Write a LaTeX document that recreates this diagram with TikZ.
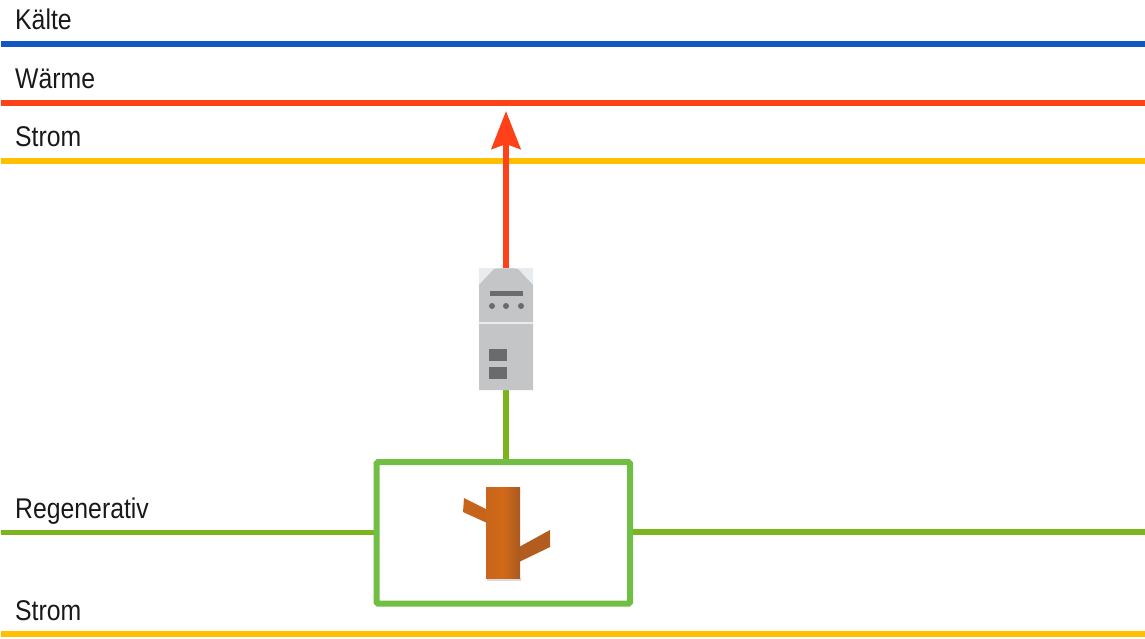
\documentclass[tikz,border=0pt]{standalone}
\usepackage{fontspec}
\setmainfont[FakeStretch=0.87]{Liberation Sans}
\usetikzlibrary{arrows.meta,backgrounds}
\definecolor{kalt}{HTML}{1257C6}
\definecolor{warm}{HTML}{FF4119}
\definecolor{strom}{HTML}{FFC000}
\definecolor{regen}{HTML}{7AB51D}
\definecolor{boxgreen}{HTML}{70BF44}
\definecolor{devgrey}{HTML}{C3C5C7}
\definecolor{devlight}{HTML}{E8ECEE}
\definecolor{devdark}{HTML}{6A6B6D}
\definecolor{woodA}{HTML}{C9651C}
\definecolor{woodB}{HTML}{A85A20}
\tikzset{
  busline/.style={line width=6pt},
  lbl/.style={anchor=base west,inner sep=0pt,font=\fontsize{28.5}{28.5}\selectfont,text=black!90},
  conn/.style={line width=5.8pt},
  devrect/.style={fill=devdark,draw=none},
}
\begin{document}
\begin{tikzpicture}[x=1pt,y=-1pt]
\useasboundingbox (0,0) rectangle (1145,638);
% bus ends
\coordinate (k0) at (1,44); \coordinate (k1) at (1145,44);
\coordinate (w0) at (1,102.5); \coordinate (w1) at (1145,102.5);
\coordinate (s0) at (1,160.5); \coordinate (s1) at (1145,160.5);
\coordinate (r0) at (1,532.5); \coordinate (r1) at (1145,532);
\coordinate (t0) at (1,634); \coordinate (t1) at (1145,634);
\coordinate (tiprow) at (0,111);
\draw[busline,kalt] (k0) -- (k1);
\draw[busline,warm] (w0) -- (w1);
\draw[busline,strom] (s0) -- (s1);
\draw[busline,strom] (t0) -- (t1);
\node[lbl] (lk) at (15,29) {Kälte};
\node[lbl] (lw) at (15,88) {Wärme};
\node[lbl] (ls) at (15,146) {Strom};
\node[lbl] (lr) at (15,518) {Regenerativ};
\node[lbl] (lt) at (15,620) {Strom};
% box and device
\node[draw=boxgreen,line width=6pt,rounded corners=1.5pt,outer sep=0pt,minimum width=253.5pt,minimum height=141.5pt,inner sep=0pt,anchor=north west] (box) at (376.5,462) {};
\node[fill=devlight,outer sep=0pt,minimum width=54pt,minimum height=122pt,inner sep=0pt,anchor=north west] (dev) at (479,268) {};
% connectors, behind box and device
\begin{pgfonlayer}{background}
\draw[conn,regen] (r0) -- (box.west |- r0);
\draw[conn,regen] (box.east |- r1) -- (r1);
\draw[conn,regen] (dev.south) -- (dev.south |- box.north);
\end{pgfonlayer}
\draw[conn,warm,-{Stealth[length=38pt,width=29pt,inset=5pt]}] (dev.north) -- (dev.north |- tiprow);
% device drawing
\fill[devgrey] (479,285) -- (494,269) .. controls (496,268) and (516,268) .. (518,269) -- (533,285) -- (533,390) -- (479,390) -- cycle;
\fill[devlight] (479,321.5) rectangle (533,323.5);
\fill[devdark] (489.5,291) rectangle (523,296);
\foreach \x in {492,506,521} \fill[devdark] (\x,306) circle (3pt);
\fill[devrect] (489,349) rectangle (507,361);
\fill[devrect] (489,367) rectangle (507,379);
% tree
\fill[black!14] (487,578) rectangle (521,580.5);
\fill[woodA!90!woodB] (464,498) -- (486,509) -- (487,523) -- (463,512) -- cycle;
\fill[woodB!70!woodA] (519,547) -- (550,530) -- (550,547) -- (519,562) -- cycle;
\shade[left color=woodA,right color=woodB,middle color=woodA!85!orange] (486,487) rectangle (520,578);
\end{tikzpicture}
\end{document}
